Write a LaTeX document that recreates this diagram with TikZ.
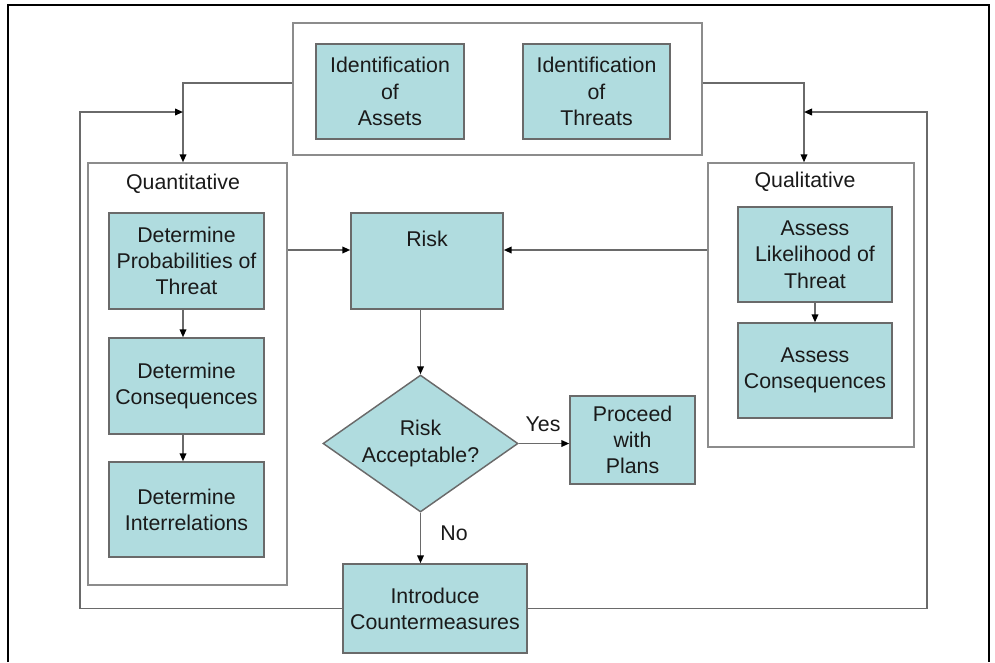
\documentclass[tikz,border=0pt]{standalone}
\usepackage{fontspec}
\setmainfont{Liberation Sans}
\usetikzlibrary{shapes.geometric,arrows.meta,calc}
\definecolor{boxfill}{HTML}{B0DCDF}
\definecolor{boxline}{HTML}{6A6A6A}
\definecolor{contline}{HTML}{8C8C8C}
\definecolor{connline}{HTML}{6A6A6A}
\definecolor{txt}{HTML}{1A1A1A}
\begin{document}
\begin{tikzpicture}[x=0.75pt,y=-0.75pt,
  sz/.style 2 args={minimum width=#1*0.75pt, minimum height=#2*0.75pt},
  stepbox/.style={draw=boxline, fill=boxfill, line width=1.1pt, inner sep=1pt, align=center, font=\fontsize{16}{19.7}\selectfont, text=txt},
  container/.style={draw=contline, line width=1.1pt, fill=white, inner sep=0pt},
  lbl/.style={font=\fontsize{16}{19.7}\selectfont, text=txt, inner sep=0pt},
  conn/.style={draw=connline, line width=1.2pt},
  arr/.style={conn, -{Triangle[length=6pt,width=5pt,color=black]}},
]
\useasboundingbox (0,0) rectangle (995,662);
\draw[black, line width=1.2pt] (8,662) -- (8,5) -- (989,5) -- (989,662);

\node[container, sz={409}{132}] (top) at (497.5,89) {};
\node[stepbox, sz={148}{95}] (idassets) at (390,91.5) {Identification\\of\\Assets};
\node[stepbox, sz={147}{95}] (idthreats) at (596.5,91.5) {Identification\\of\\Threats};

\node[container, sz={199}{422}] (quant) at (187.5,374) {};
\node[lbl] (quantlbl) at (183,184) {Quantitative};
\node[stepbox, sz={155}{96}] (detprob) at (186.5,261) {Determine\\Probabilities of\\Threat};
\node[stepbox, sz={155}{96}] (detcons) at (186.5,386) {Determine\\Consequences};
\node[stepbox, sz={155}{95}] (detinter) at (186.5,509.5) {Determine\\Interrelations};

\node[container, sz={206}{284}] (qual) at (811,305) {};
\node[lbl] (quallbl) at (805,182) {Qualitative};
\node[stepbox, sz={154}{95}] (asslik) at (815,254.5) {Assess\\Likelihood of\\Threat};
\node[stepbox, sz={154}{95}] (asscons) at (815,370.5) {Assess\\Consequences};

\node[stepbox, sz={152}{96}] (risk) at (427,261) {};
\node[lbl] (risklbl) at (427,239) {Risk};

\node[stepbox, diamond, shape aspect=1.42, sz={195}{137}, inner sep=0pt] (accept) at (420.5,443.5) {Risk\\Acceptable?};
\node[stepbox, sz={125}{88}] (proceed) at (632.5,440) {Proceed\\with\\Plans};
\node[stepbox, sz={184}{89}] (intro) at (435,608.5) {Introduce\\Countermeasures};

\node[lbl] (yes) at (543,424) {Yes};
\node[lbl] (no) at (454,533) {No};

\coordinate (qtop) at (183,83);
\coordinate (ltop) at (804,83);
\coordinate (fbl) at (80,112);
\coordinate (fbr) at (927,112);
\coordinate (rl) at (0,250);

\draw[arr] (top.west |- qtop) -- (qtop) -- (qtop |- quant.north);
\draw[arr] (top.east |- ltop) -- (ltop) -- (ltop |- qual.north);
\draw[arr] (intro.west) -- (fbl |- intro.west) -- (fbl) -- (qtop |- fbl);
\draw[arr] (intro.east) -- (fbr |- intro.east) -- (fbr) -- (ltop |- fbr);

\draw[arr] (quant.east |- rl) -- (risk.west |- rl);
\draw[arr] (qual.west |- rl) -- (risk.east |- rl);
\draw[arr] (risk.south -| accept.north) -- (accept.north);
\draw[arr] (accept.east) -- (proceed.west |- accept.east);
\draw[arr] (accept.south) -- (accept.south |- intro.north);

\draw[arr] (detprob.south -| qtop) -- (detcons.north -| qtop);
\draw[arr] (detcons.south -| qtop) -- (detinter.north -| qtop);
\draw[arr] (asslik.south) -- (asscons.north);
\end{tikzpicture}
\end{document}
